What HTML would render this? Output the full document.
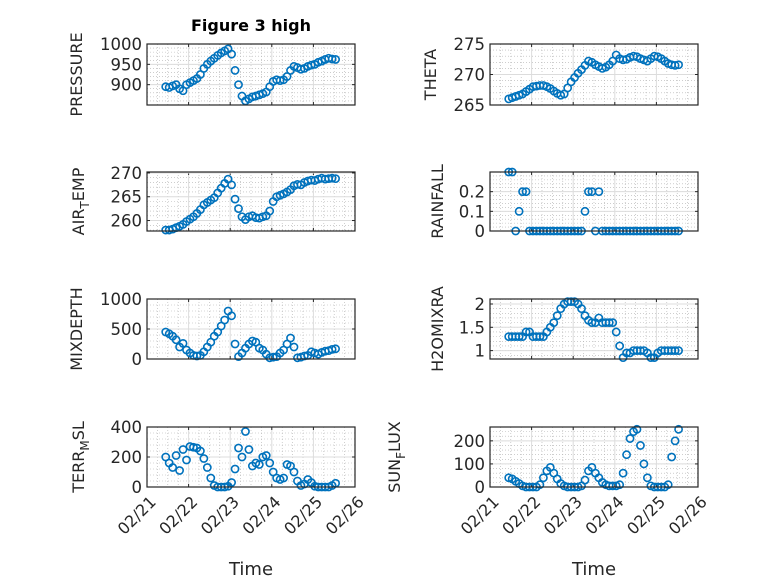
<!DOCTYPE html>
<html><head><meta charset="utf-8"><style>
html,body{margin:0;padding:0;background:#fff;}
svg{display:block;font-family:"DejaVu Sans","Liberation Sans",sans-serif;}
</style></head><body>
<svg id="fig" width="778" height="583" viewBox="0 0 778 583" xmlns="http://www.w3.org/2000/svg">
<rect width="778" height="583" fill="#fff"/>
<text x="251" y="31" text-anchor="middle" font-size="16" font-weight="bold" fill="#000">Figure 3 high</text>
</svg>
<script>
// ---- data (time = hours after 02/21 10:48) ----
const hours=[0,2,4,6,8,10,12,14,16,18,20,22,24,26,28,30,32,34,36,38,40,42,44,46,48,50,52,54,56,58,60,62,64,66,68,70,72,74,76,78,80,82,84,86,88,90,92,94,96,98];
const startDay=21.45;
const xTickDays=[21,22,23,24,25,26];
const xTickLabels=["02/21","02/22","02/23","02/24","02/25","02/26"];
const pressure=[895,893,897,900,890,885,900,905,910,915,925,940,950,958,965,972,978,983,988,975,935,900,872,860,865,870,872,875,878,882,895,908,912,910,912,920,935,945,942,938,940,945,948,950,955,958,962,965,963,962];
const airTemp=[258,258,258.2,258.5,258.8,259.2,259.8,260.3,260.8,261.5,262.3,263.3,263.8,264.3,264.8,265.8,266.8,267.8,268.7,267.5,264.5,262.5,260.8,260.2,260.8,261,260.6,260.5,260.8,261,262,264,265,265.3,265.6,266,266.5,267.3,267.6,267.5,268,268.3,268.5,268.4,268.7,268.9,268.7,268.8,268.9,268.8];
const mixDepth=[450,420,380,320,200,260,150,100,60,50,60,120,200,280,380,450,550,650,800,720,250,40,100,180,250,300,280,180,150,80,20,30,40,100,150,250,350,200,20,30,50,60,120,100,80,110,130,140,160,170];
const terrMsl=[200,160,130,210,110,250,180,270,265,260,240,190,130,60,10,0,0,0,5,30,120,260,200,370,250,140,160,150,200,210,160,100,60,50,60,150,140,100,40,10,20,50,30,5,0,0,0,0,10,25];
const theta=[266,266.2,266.4,266.6,266.8,267.2,267.6,268,268.1,268.2,268.2,268,267.7,267.3,266.9,266.6,266.8,267.8,268.8,269.5,270.2,270.8,271.5,272.2,272,271.6,271.3,271,271.2,271.6,272.2,273.2,272.6,272.4,272.5,272.8,273,272.9,272.6,272.4,272.2,272.6,273,272.9,272.6,272.2,271.8,271.6,271.5,271.6];
const rainfall=[0.3,0.3,0,0.1,0.2,0.2,0,0,0,0,0,0,0,0,0,0,0,0,0,0,0,0,0.1,0.2,0.2,0,0.2,0,0,0,0,0,0,0,0,0,0,0,0,0,0,0,0,0,0,0,0,0,0,0];
const h2oMix=[1.3,1.3,1.3,1.3,1.3,1.4,1.4,1.3,1.3,1.3,1.3,1.4,1.5,1.6,1.75,1.9,2.0,2.05,2.05,2.05,2.0,1.9,1.75,1.65,1.6,1.6,1.7,1.6,1.6,1.6,1.6,1.4,1.1,0.85,0.95,0.95,1.0,1.0,1.0,1.0,0.95,0.85,0.85,0.95,1.0,1.0,1.0,1.0,1.0,1.0];
const sunFlux=[40,35,25,15,5,0,0,0,0,10,40,70,85,60,35,15,5,0,0,0,0,5,30,70,85,60,40,20,10,5,5,5,10,60,140,210,240,250,180,100,40,5,0,0,0,0,10,130,200,250];
const ticksPressure=[900,950,1000], ticksAir=[260,265,270], ticksMix=[0,500,1000], ticksTerr=[0,200,400];
const ticksTheta=[265,270,275], ticksRain=[0,0.1,0.2], ticksH2o=[1,1.5,2], ticksSun=[0,100,200];

const NS="http://www.w3.org/2000/svg";
const svg=document.getElementById('fig');
function mk(tag,attrs,parent){const e=document.createElementNS(NS,tag);for(const k in attrs)e.setAttribute(k,attrs[k]);(parent||svg).appendChild(e);return e;}

const panels=[
 {name:'pressure',label:['PRESSURE'],vals:pressure,ticks:ticksPressure,ymin:850,ymax:1000,x0:147,x1:355,y0:44,y1:105,lx:82,bottom:false},
 {name:'air-temp',label:['AIR','T','EMP'],vals:airTemp,ticks:ticksAir,ymin:257.8,ymax:270.2,x0:147,x1:355,y0:172,y1:231,lx:84,bottom:false},
 {name:'mixdepth',label:['MIXDEPTH'],vals:mixDepth,ticks:ticksMix,ymin:0,ymax:1000,x0:147,x1:355,y0:299,y1:359,lx:82,bottom:false},
 {name:'terr-msl',label:['TERR','M','SL'],vals:terrMsl,ticks:ticksTerr,ymin:0,ymax:400,x0:147,x1:355,y0:427,y1:487,lx:84,bottom:true},
 {name:'theta',label:['THETA'],vals:theta,ticks:ticksTheta,ymin:265,ymax:275,x0:490,x1:698,y0:44,y1:105,lx:436,bottom:false},
 {name:'rainfall',label:['RAINFALL'],vals:rainfall,ticks:ticksRain,ymin:0,ymax:0.3,x0:490,x1:698,y0:172,y1:231,lx:443,bottom:false},
 {name:'h2omixra',label:['H2OMIXRA'],vals:h2oMix,ticks:ticksH2o,ymin:0.82,ymax:2.107,x0:490,x1:698,y0:299,y1:359,lx:443,bottom:false},
 {name:'sun-flux',label:['SUN','F','LUX'],vals:sunFlux,ticks:ticksSun,ymin:0,ymax:260,x0:490,x1:698,y0:427,y1:487,lx:400,bottom:true}
];

panels.forEach(p=>{
  const g=mk('g',{});
  
  
  const xs=d=>p.x0+(d-21)/5*(p.x1-p.x0);
  const ys=v=>p.y1-(v-p.ymin)/(p.ymax-p.ymin)*(p.y1-p.y0);
  for(let d=21;d<26;d+=0.25){ if(Math.abs(d-Math.round(d))<1e-6)continue;
    const l=mk('line',{x1:xs(d),x2:xs(d),y1:p.y0,y2:p.y1,stroke:'#b0b0b0','stroke-width':0.6,'stroke-dasharray':'1 2'},g);
    
    
  }
  const tstep=p.ticks[1]-p.ticks[0];
  for(let v=p.ticks[0]-tstep;v<=p.ymax+1e-9;v+=tstep/5){
    if(v<p.ymin-1e-9)continue;
    const y=ys(v);
    const l=mk('line',{x1:p.x0,x2:p.x1,y1:y,y2:y,stroke:'#b0b0b0','stroke-width':0.6,'stroke-dasharray':'1 2'},g);
    
    
  }
  xTickDays.forEach(d=>{
    const l=mk('line',{x1:xs(d),x2:xs(d),y1:p.y0,y2:p.y1,stroke:'#dcdcdc','stroke-width':1},g);
    
    
    const t1=mk('line',{x1:xs(d),x2:xs(d),y1:p.y1,y2:p.y1-3,stroke:'#262626','stroke-width':1},g);
    
    
    const t2=mk('line',{x1:xs(d),x2:xs(d),y1:p.y0,y2:p.y0+3,stroke:'#262626','stroke-width':1},g);
    
    
  });
  p.ticks.forEach(v=>{
    const y=ys(v);
    const l=mk('line',{x1:p.x0,x2:p.x1,y1:y,y2:y,stroke:'#dcdcdc','stroke-width':1},g);
    
    
    const t=mk('line',{x1:p.x0,x2:p.x0+3,y1:y,y2:y,stroke:'#262626','stroke-width':1},g);
    
    
    const t2=mk('line',{x1:p.x1,x2:p.x1-3,y1:y,y2:y,stroke:'#262626','stroke-width':1},g);
    
    
    const tx=mk('text',{x:p.x0-5,y:y+6,'text-anchor':'end','font-size':16.5,fill:'#262626'},g);
    tx.textContent=String(v);
    
    
  });
  p.vals.forEach((v,i)=>{
    const d=startDay+hours[i]/24;
    const c=mk('circle',{cx:xs(d),cy:ys(v),r:3.6,fill:'none',stroke:'#0072BD','stroke-width':1.6},g);
    
    
  });
  const b=mk('rect',{x:p.x0,y:p.y0,width:p.x1-p.x0,height:p.y1-p.y0,fill:'none',stroke:'#262626','stroke-width':1.2},g);
  
  
  const cy=(p.y0+p.y1)/2;
  const yl=mk('text',{transform:`translate(${p.lx},${cy}) rotate(-90)`,'text-anchor':'middle','font-size':16,fill:'#262626'},g);
  
  
  if(p.label.length===1){yl.textContent=p.label[0];}
  else{
    const a=mk('tspan',{},yl);a.textContent=p.label[0];
    const s=mk('tspan',{dy:5,'font-size':12},yl);s.textContent=p.label[1];
    const c2=mk('tspan',{dy:-5},yl);c2.textContent=p.label[2];
  }
  if(p.bottom){
    xTickDays.forEach((d,k)=>{
      const t=mk('text',{transform:`translate(${xs(d)+2},${p.y1+8}) rotate(-45)`,'text-anchor':'end',dy:'0.7em','font-size':16,fill:'#262626'},g);
      t.textContent=xTickLabels[k];
      
      
    });
    const xl=mk('text',{x:(p.x0+p.x1)/2,y:575,'text-anchor':'middle','font-size':18,fill:'#262626'},g);
    xl.textContent='Time';
    
    
  }
});
</script>
</body></html>
